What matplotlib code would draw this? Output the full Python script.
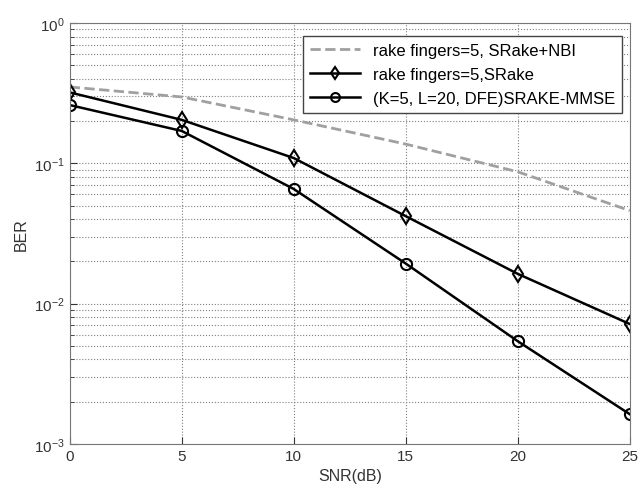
import matplotlib
matplotlib.use('Agg')
import matplotlib.pyplot as plt
from matplotlib.ticker import LogLocator, NullFormatter

plt.rcParams['font.family'] = ['Liberation Sans', 'DejaVu Sans']

snr = [0, 5, 10, 15, 20, 25]
ber_nbi = [0.35, 0.297, 0.204, 0.137, 0.087, 0.046]
ber_srake = [0.32, 0.204, 0.109, 0.042, 0.0163, 0.00716]
ber_mmse = [0.26, 0.17, 0.0656, 0.0193, 0.0054, 0.00163]

fig = plt.figure(figsize=(6.4, 4.89), dpi=100)
ax = fig.add_axes([0.109, 0.09, 0.875, 0.861])

ax.semilogy(snr, ber_nbi, '--', color='#a0a0a0', lw=2, label='rake fingers=5, SRake+NBI')
ax.semilogy(snr, ber_srake, '-', color='black', lw=1.8, marker='d', markersize=8,
            markerfacecolor='none', markeredgewidth=1.5, label='rake fingers=5,SRake')
ax.semilogy(snr, ber_mmse, '-', color='black', lw=1.8, marker='o', markersize=8,
            markerfacecolor='none', markeredgewidth=1.5, label='(K=5, L=20, DFE)SRAKE-MMSE')

ax.set_xlim(0, 25)
ax.set_ylim(1e-3, 1)
ax.set_xticks(snr)
ax.yaxis.set_major_locator(LogLocator(base=10, numticks=10))
ax.yaxis.set_minor_locator(LogLocator(base=10, subs=range(2, 10), numticks=20))
ax.yaxis.set_minor_formatter(NullFormatter())

ax.grid(True, which='major', linestyle=':', color='#808080', lw=0.8)
ax.grid(True, which='minor', axis='y', linestyle=':', color='#808080', lw=0.8)

ax.tick_params(direction='in', which='both', labelsize=11, colors='#333333')
ax.tick_params(which='major', length=5)
ax.tick_params(which='minor', length=3)
for s in ax.spines.values():
    s.set_color('#777777')

ax.set_xlabel('SNR(dB)', fontsize=11.5, color='#333333')
ax.set_ylabel('BER', fontsize=11.5, color='#333333')

# legend box spans roughly x 299..622, y 37..112 px
leg = ax.legend(loc='upper right', bbox_to_anchor=(622 / 640, 1 - 37 / 489),
                bbox_transform=fig.transFigure, fontsize=12, fancybox=False,
                framealpha=1, edgecolor='#444444', borderaxespad=0,
                handlelength=3.0, labelspacing=0.55, markerscale=0.8)
leg.get_frame().set_linewidth(1.0)

fig.savefig('out.png', dpi=100)
